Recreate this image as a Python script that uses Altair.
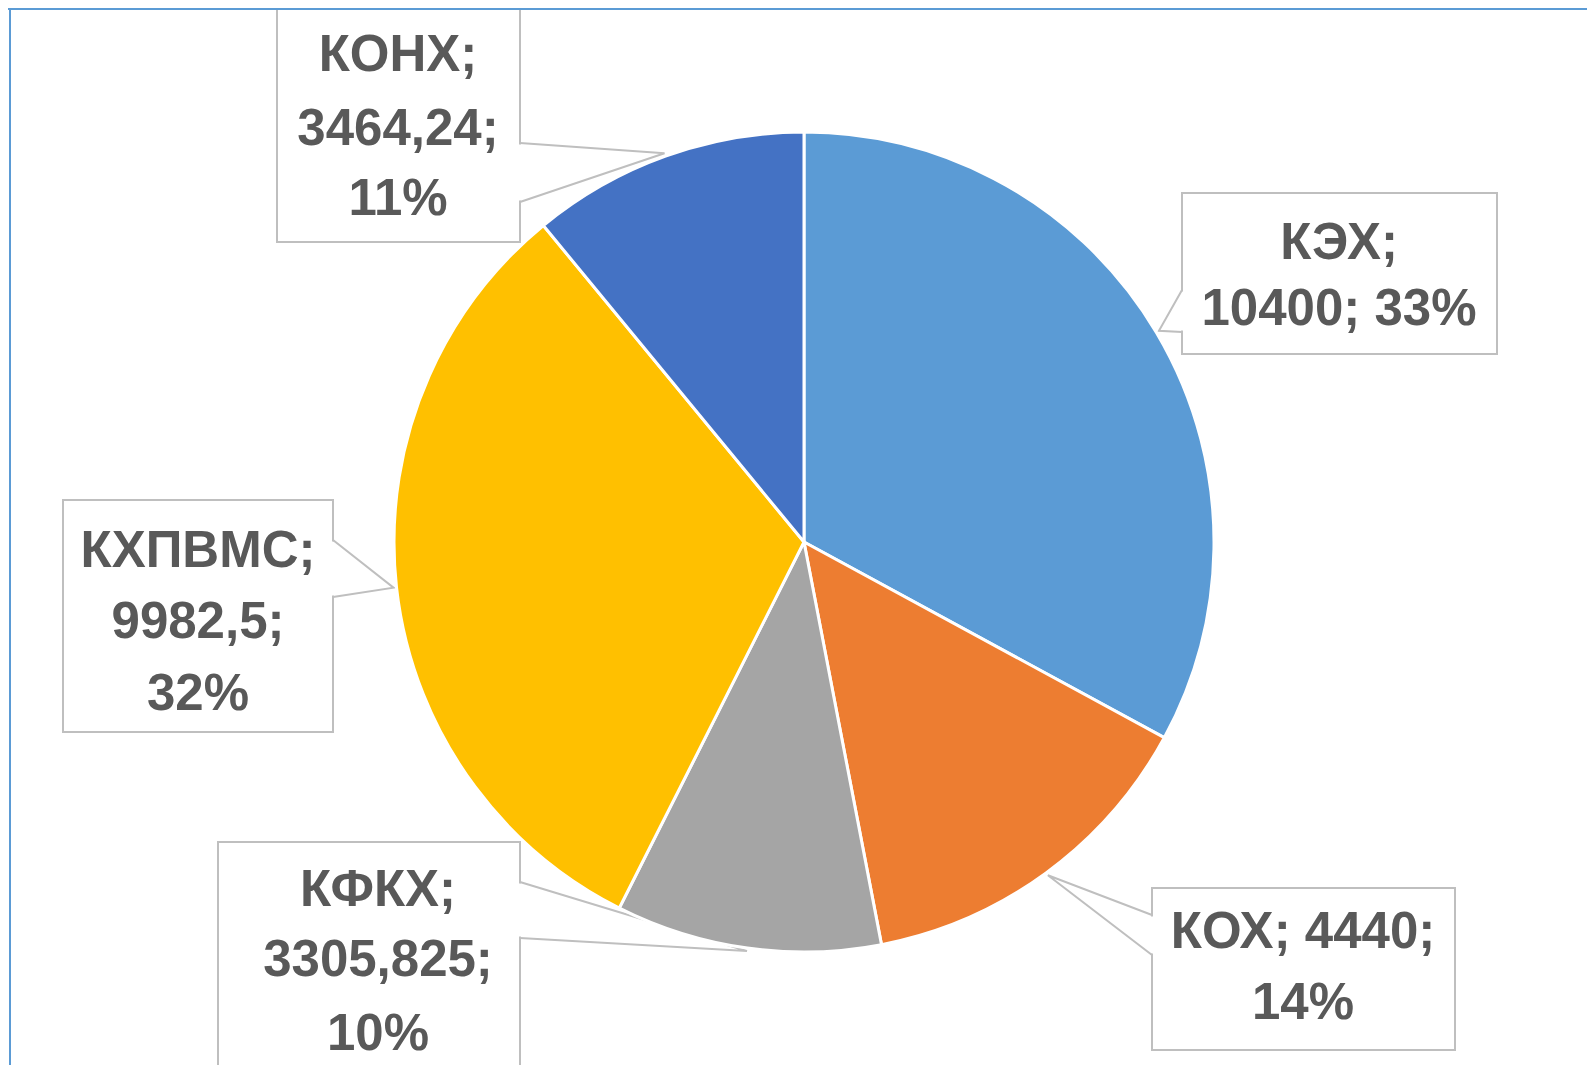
import math
import altair as alt
import pandas as pd

# ---- data ----
categories = ["КЭХ", "КОХ", "КФКХ", "КХПВМС", "КОНХ"]
values = [10400, 4440, 3305.825, 9982.5, 3464.24]
value_labels = ["10400", "4440", "3305,825", "9982,5", "3464,24"]
percent_labels = ["33%", "14%", "10%", "32%", "11%"]
colors = ["#5B9BD5", "#ED7D31", "#A5A5A5", "#FFC000", "#4472C4"]

# ---- layout (pixels inside the view) ----
W, H = 1579, 1057
CX, CY, R = 796, 534, 410
TIP_R = 413
FONT = "Liberation Sans"
FS = 51
TEXT_COLOR = "#595959"
BOX_STROKE = "#BFBFBF"

# line grouping of label pieces (category; value; percent)
line_groups = {
    "КЭХ": [[0], [1, 2]],
    "КОХ": [[0, 1], [2]],
    "КФКХ": [[0], [1], [2]],
    "КХПВМС": [[0], [1], [2]],
    "КОНХ": [[0], [1], [2]],
}
# box x0, x1, y0, y1 ; pointer edge ; pointer base ya, yb ; text centre x ; line ys
box_layout = {
    "КЭХ": dict(box=(1174, 1489, 185, 346), edge=1174, pa=282, pb=324, tx=1331, ys=[236, 302]),
    "КОХ": dict(box=(1144, 1447, 880, 1042), edge=1144, pa=907, pb=947, tx=1295, ys=[925, 996]),
    "КФКХ": dict(box=(210, 512, 834, 1100), edge=512, pa=874, pb=930, tx=370, ys=[883, 953, 1027]),
    "КХПВМС": dict(box=(55, 325, 492, 724), edge=325, pa=532, pb=589, tx=190, ys=[544, 615, 687]),
    "КОНХ": dict(box=(269, 512, -20, 234), edge=512, pa=135, pb=194, tx=390, ys=[48, 122, 192]),
}

# ---- derived tables ----
total = sum(values)
pie_df = pd.DataFrame({"category": categories, "value": values, "idx": list(range(len(categories)))})

box_rows, cover_rows, ptr_rows, text_rows = [], [], [], []
cum = 0.0
for i, cat in enumerate(categories):
    v = values[i]
    mid = (cum + v / 2) / total * 2 * math.pi
    cum += v
    tipx = CX + TIP_R * math.sin(mid)
    tipy = CY - TIP_R * math.cos(mid)
    L = box_layout[cat]
    x0, x1, y0, y1 = L["box"]
    box_rows.append(dict(category=cat, x0=x0, x1=x1, y0=y0, y1=y1))
    cover_rows.append(dict(category=cat, x=L["edge"], ya=L["pa"] + 1.5, yb=L["pb"] - 1.5))
    for k, (px, py) in enumerate([(L["edge"], L["pa"]), (tipx, tipy), (L["edge"], L["pb"])]):
        ptr_rows.append(dict(category=cat, k=k, x=px, y=py))
    pieces = [cat, value_labels[i], percent_labels[i]]
    pieces = [p + ";" if j < 2 else p for j, p in enumerate(pieces)]
    for li, grp in enumerate(line_groups[cat]):
        text_rows.append(dict(category=cat, x=L["tx"], y=L["ys"][li], text=" ".join(pieces[j] for j in grp)))

box_df = pd.DataFrame(box_rows)
cover_df = pd.DataFrame(cover_rows)
ptr_df = pd.DataFrame(ptr_rows)
text_df = pd.DataFrame(text_rows)

xs = alt.Scale(domain=[0, W], range=[0, W], nice=False, zero=False)
ys = alt.Scale(domain=[0, H], range=[0, H], nice=False, zero=False)

boxes = alt.Chart(box_df).mark_rect(fill="white", stroke=BOX_STROKE, strokeWidth=2, clip=True).encode(
    x=alt.X("x0:Q", scale=xs, axis=None), x2="x1:Q",
    y=alt.Y("y0:Q", scale=ys, axis=None), y2="y1:Q",
)

covers = alt.Chart(cover_df).mark_rule(stroke="white", strokeWidth=4).encode(
    x=alt.X("x:Q", scale=xs, axis=None),
    y=alt.Y("ya:Q", scale=ys, axis=None), y2="yb:Q",
)

pointers = alt.Chart(ptr_df).mark_line(stroke=BOX_STROKE, strokeWidth=2).encode(
    x=alt.X("x:Q", scale=xs, axis=None),
    y=alt.Y("y:Q", scale=ys, axis=None),
    detail="category:N",
    order="k:Q",
)

pie = alt.Chart(pie_df).mark_arc(outerRadius=R, stroke="white", strokeWidth=3).encode(
    theta=alt.Theta("value:Q", stack=True),
    color=alt.Color("category:N", scale=alt.Scale(domain=categories, range=colors), legend=None),
    order=alt.Order("idx:Q"),
    x=alt.value(CX), y=alt.value(CY),
)

texts = alt.Chart(text_df).mark_text(
    font=FONT, fontSize=FS, fontWeight="bold", color=TEXT_COLOR, align="center", baseline="middle"
).encode(
    x=alt.X("x:Q", scale=xs, axis=None),
    y=alt.Y("y:Q", scale=ys, axis=None),
    text="text:N",
)

frame_top = alt.Chart(pie_df).mark_rule(stroke="#5B9BD5", strokeWidth=2).encode(
    x=alt.value(0), x2=alt.value(W), y=alt.value(1)
)
frame_left = alt.Chart(pie_df).mark_rule(stroke="#5B9BD5", strokeWidth=2).encode(
    x=alt.value(2), y=alt.value(0), y2=alt.value(H)
)

chart = alt.layer(boxes, covers, pointers, pie, texts, frame_top, frame_left).properties(
    width=W, height=H, padding=0, autosize=alt.AutoSizeParams(type="none"), background="white"
).configure_view(stroke=None)

chart.save("out.html", embed_options={"renderer": "svg", "actions": False})
